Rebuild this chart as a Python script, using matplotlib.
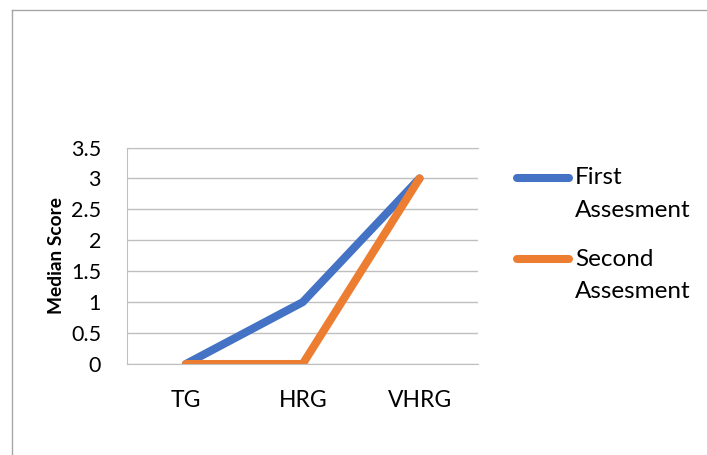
import matplotlib.pyplot as plt
from matplotlib.lines import Line2D

# %% data
categories = ['TG', 'HRG', 'VHRG']
first_assessment = [0, 1, 3]
second_assessment = [0, 0, 3]
series_labels = ['First\nAssesment', 'Second\nAssesment']
yticks = [0, 0.5, 1, 1.5, 2, 2.5, 3, 3.5]

blue = '#4472C4'
orange = '#ED7D31'
grid_grey = '#BFBFBF'

plt.rcParams['font.family'] = ['Lato', 'DejaVu Sans']

# %% figure
fig = plt.figure(figsize=(7.07, 4.55), dpi=100)
ax = fig.add_axes([0.1803, 0.2, 0.4957, 0.4758])

x = range(len(categories))
ax.plot(x, first_assessment, color=blue, lw=5.8, solid_capstyle='round',
        solid_joinstyle='round', zorder=3)
ax.plot(x, second_assessment, color=orange, lw=5.8, solid_capstyle='round',
        solid_joinstyle='round', zorder=4)

ax.set_xlim(-0.5, len(categories) - 0.5)
ax.set_ylim(0, 3.5)
ax.set_xticks(list(x))
ax.set_xticklabels(categories, fontsize=16.5)
ax.set_yticks(yticks)
ax.set_yticklabels([f'{v:g}' for v in yticks], fontsize=15.5)
ax.tick_params(axis='both', length=0, colors='black')
ax.tick_params(axis='x', pad=19)
ax.tick_params(axis='y', pad=19)

ax.grid(axis='y', color=grid_grey, lw=1)
ax.set_axisbelow(True)
for side in ['left', 'bottom', 'top']:
    ax.spines[side].set_color(grid_grey)
ax.spines['right'].set_visible(False)
ax.set_ylabel('Median Score', fontsize=13.8, fontweight='bold', labelpad=4)

# %% legend drawn by hand so the line sits on the first text line
W, H = 707, 455
for i, (lab, col) in enumerate(zip(series_labels, [blue, orange])):
    yy = 1 - (178 + i * 81) / H
    fig.add_artist(Line2D([517 / W, 569 / W], [yy, yy], color=col, lw=5.8,
                          solid_capstyle='round'))
    first, second = lab.split('\n')
    fig.text(575 / W, yy, first, fontsize=17.5, va='center', ha='left')
    fig.text(575 / W, yy - 33 / H, second, fontsize=17.5, va='center', ha='left')

# %% outer chart frame (only top and left edges show)
fig.add_artist(Line2D([12 / W, 12 / W], [0, 1 - 10 / H], color='#A6A6A6', lw=1))
fig.add_artist(Line2D([12 / W, 1], [1 - 10 / H, 1 - 10 / H], color='#A6A6A6', lw=1))

fig.savefig('out.png', dpi=100)
